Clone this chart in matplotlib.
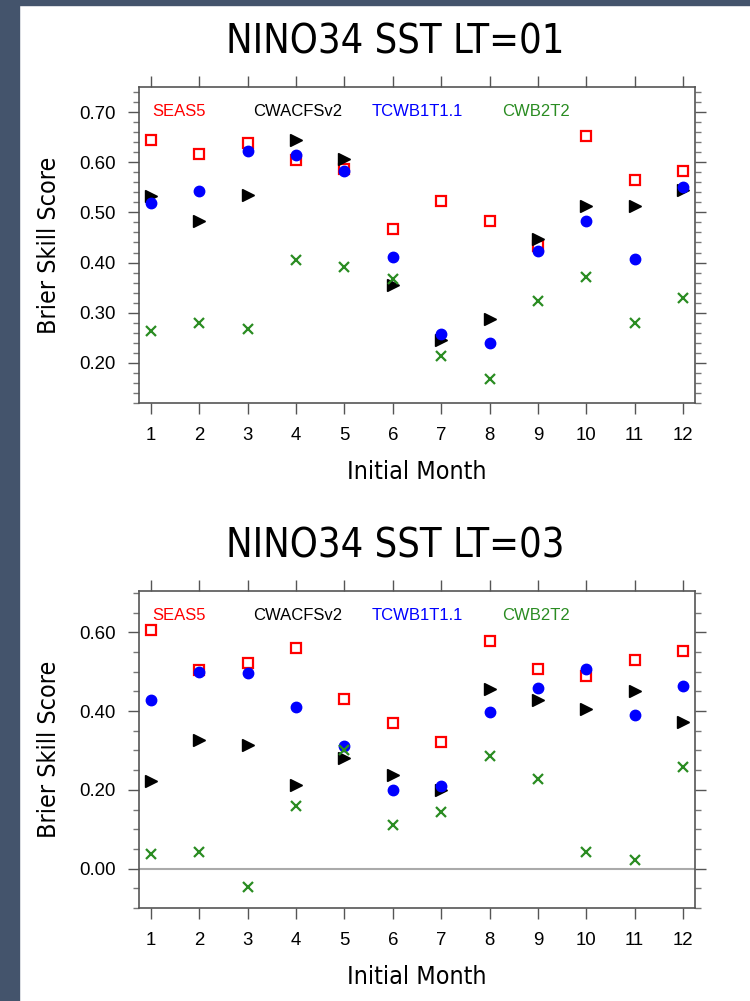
import numpy as np
import matplotlib
matplotlib.use("Agg")
import matplotlib.pyplot as plt
from matplotlib import font_manager as fm
from matplotlib.patches import Rectangle
from matplotlib.ticker import MultipleLocator, FormatStrFormatter

months = np.arange(1, 13)
models = ["SEAS5", "CWACFSv2", "TCWB1T1.1", "CWB2T2"]

# LT=01
seas5_lt01 = [0.645, 0.617, 0.638, 0.604, 0.586, 0.466, 0.522, 0.482, 0.433, 0.653, 0.564, 0.582]
cwacfs_lt01 = [0.532, 0.482, 0.534, 0.645, 0.607, 0.355, 0.245, 0.288, 0.446, 0.513, 0.512, 0.545]
tcwb_lt01 = [0.518, 0.542, 0.623, 0.614, 0.583, 0.412, 0.257, 0.240, 0.424, 0.483, 0.407, 0.550]
cwb2_lt01 = [0.264, 0.280, 0.267, 0.405, 0.392, 0.368, 0.214, 0.168, 0.324, 0.372, 0.279, 0.330]

# LT=03
seas5_lt03 = [0.607, 0.504, 0.523, 0.559, 0.432, 0.369, 0.322, 0.577, 0.506, 0.488, 0.529, 0.552]
cwacfs_lt03 = [0.223, 0.326, 0.314, 0.213, 0.280, 0.238, 0.200, 0.455, 0.427, 0.405, 0.450, 0.372]
tcwb_lt03 = [0.427, 0.499, 0.497, 0.410, 0.312, 0.199, 0.211, 0.397, 0.458, 0.507, 0.389, 0.463]
cwb2_lt03 = [0.038, 0.042, -0.046, 0.158, 0.302, 0.111, 0.143, 0.285, 0.227, 0.042, 0.023, 0.257]

RED = "#ff0000"
BLUE = "#0000ff"
GREEN = "#2a8c22"
plt.rcParams["font.family"] = ["Liberation Sans", "DejaVu Sans"]


# look for a narrow sans face for titles / axis labels
def find_narrow():
    best = None
    for f in fm.fontManager.ttflist:
        if f.style != "normal" or f.weight not in (400, "normal", "regular"):
            continue
        nm = f.name.lower()
        if "narrow" in nm and "liberation" in nm:
            return f.fname
        if f.stretch in ("condensed", "semi-condensed") or "condensed" in nm:
            if "mono" in nm or "serif" in nm.replace("sans", ""):
                continue
            best = best or f.fname
    return best


narrow_file = find_narrow()
if narrow_file:
    NARROW = dict(fontproperties=fm.FontProperties(fname=narrow_file))
    SCALE = 1.0
else:
    NARROW = dict(family=["Liberation Sans", "DejaVu Sans"])
    SCALE = 0.85


def ntext(x, y, s, size, **kw):
    opts = dict(NARROW)
    if "fontproperties" in opts:
        fp = opts["fontproperties"].copy()
        fp.set_size(size * SCALE)
        opts["fontproperties"] = fp
    else:
        opts["fontsize"] = size * SCALE
    return kw.pop("target").text(x, y, s, **opts, **kw)


fig = plt.figure(figsize=(7.5, 10.01), dpi=100)
# dark frame on the left and top
fig.patches.append(Rectangle((0, 0), 19 / 750, 1, transform=fig.transFigure, color="#44546c", zorder=0))
fig.patches.append(Rectangle((0, 1 - 5 / 1001), 1, 5 / 1001, transform=fig.transFigure, color="#44546c", zorder=0))


def draw_panel(rect, title, seas5, cwacfs, tcwb, cwb2, ylim, major, minor):
    ax = fig.add_axes(rect)
    ax.plot(months, seas5, ls="none", marker="s", ms=7, mfc="white", mec=RED, mew=1.6, zorder=3)
    ax.plot(months, cwacfs, ls="none", marker=">", ms=8, color="black", zorder=4)
    ax.plot(months, tcwb, ls="none", marker="o", ms=7.5, color=BLUE, zorder=5)
    ax.plot(months, cwb2, ls="none", marker="x", ms=7, mew=1.6, color=GREEN, zorder=6)

    ax.set_xlim(0.75, 12.25)
    ax.set_ylim(*ylim)
    ax.set_xticks(months)
    ax.yaxis.set_major_locator(MultipleLocator(major))
    ax.yaxis.set_minor_locator(MultipleLocator(minor))
    ax.yaxis.set_major_formatter(FormatStrFormatter("%.2f"))
    ax.tick_params(axis="both", which="major", direction="out", length=8, width=1,
                   color="#555555", labelsize=13.4, pad=9)
    ax.tick_params(axis="y", which="minor", direction="out", length=4.5, width=1, color="#777777")
    ax.tick_params(top=True, right=True, which="both")
    ax.tick_params(axis="y", which="minor", left=True, right=True)
    for sp in ax.spines.values():
        sp.set_color("#555555")
        sp.set_linewidth(1.2)

    for i, (name, col) in enumerate(zip(models, [RED, "black", BLUE, GREEN])):
        ax.text(0.072 + 0.2143 * i, 0.924, name, color=col, fontsize=12,
                ha="center", va="center", transform=ax.transAxes)

    ntext(-0.162, 0.5, "Brier Skill Score", 18, target=ax, rotation=90, ha="center",
          va="center", transform=ax.transAxes)
    ntext(0.5, -0.218, "Initial Month", 18, target=ax, ha="center", va="center",
          transform=ax.transAxes)
    top = rect[1] + rect[3]
    ntext(395 / 750, top + 45 / 1001, title, 28.5, target=fig, ha="center", va="center")
    return ax


draw_panel([139 / 750, 598 / 1001, 556 / 750, 316 / 1001], "NINO34 SST LT=01",
           seas5_lt01, cwacfs_lt01, tcwb_lt01, cwb2_lt01, (0.12, 0.75), 0.1, 0.02)
ax2 = draw_panel([139 / 750, 93 / 1001, 556 / 750, 317 / 1001], "NINO34 SST LT=03",
                 seas5_lt03, cwacfs_lt03, tcwb_lt03, cwb2_lt03, (-0.10, 0.705), 0.2, 0.05)
ax2.axhline(0.0, color="#aaaaaa", lw=1.5, zorder=1)

fig.savefig("out.png", dpi=100)
